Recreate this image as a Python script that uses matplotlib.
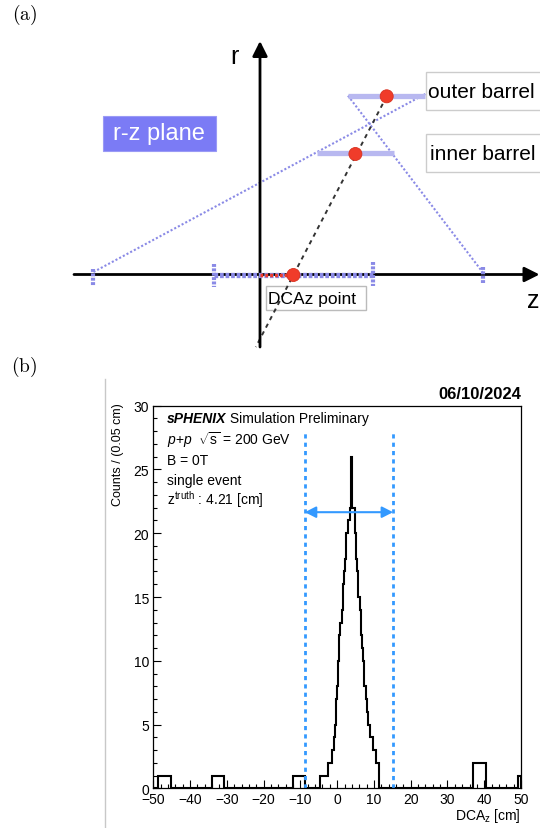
import matplotlib.pyplot as plt
import numpy as np
from matplotlib.patches import Rectangle, Circle

plt.rcParams['font.family'] = ['Liberation Sans', 'DejaVu Sans']
plt.rcParams['mathtext.fontset'] = 'custom'
plt.rcParams['mathtext.rm'] = 'Liberation Sans'
plt.rcParams['mathtext.it'] = 'Liberation Sans:italic'
plt.rcParams['mathtext.bf'] = 'Liberation Sans:bold'

# ---- (b) histogram of DCAz
edges = [-50, -48.6, -45.2, -34.1, -30.8, -12.1, -8.8,
         -4.8, -2.6, -1.5, -0.9, -0.6, -0.3, 0.0, 0.3, 0.6, 0.9, 1.2, 1.5, 1.8,
         2.1, 2.5, 3.0, 3.5, 3.9, 4.15, 4.9, 5.2, 5.5, 5.8, 6.1, 6.4, 6.8, 7.1,
         7.4, 7.8, 8.1, 8.4, 8.8, 9.8, 10.7, 11.3,
         37.0, 40.5, 49.3, 50]
counts = [0, 1, 0, 1, 0, 1, 0,
          1, 2, 3, 4, 5, 7, 8, 10, 12, 13, 14, 16, 17, 18, 20, 21, 22, 26, 22,
          20, 18, 17, 15, 14, 12, 11, 10, 8, 7, 6, 5, 4, 3, 2,
          0, 2, 0, 1]
z_truth = 4.21
window = [z_truth - 13.0, z_truth + 11.0]
arrow_y = 21.65
x_ticks = np.arange(-50, 51, 10)
y_ticks = np.arange(0, 31, 5)
info = [r"$p$+$p$  $\sqrt{\rm s}$ = 200 GeV", "B = 0T", "single event",
        r"z$^{\rm truth}$ : 4.21 [cm]"]
info_y = [27.0, 25.44, 23.87, 22.3]

# ---- (a) r-z sketch, pixel coordinates of the original drawing
r_axis = ([260, 260], [348, 42])
z_axis = ([74, 539.5], [275.5, 275.5])
hit_x = [386.7, 355.4, 293.4]
hit_y = [97.3, 155.0, 276.0]
barrel_x = [(348, 425), (317, 394)]
barrel_y = [96.7, 154.0]
cone_lines = [((93.5, 425.3), (273, 95)), ((348, 482.5), (96.7, 273))]
ztick_x = [93.3, 214, 373.3, 482.7]
ztick_y = [(270, 287), (265, 288), (263, 287), (268, 284)]
band_x = (214, 373.3)
dca_seg = (260, 293.4)
track_end = (255.8, 348)

blue = "#3399ff"
lav = "#8a8ae6"
red = "#f03c2a"

fig = plt.figure(figsize=(5.4, 8.29), dpi=100)
ov = fig.add_axes([0, 0, 1, 1])
ov.set_xlim(0, 540)
ov.set_ylim(829, 0)
ov.axis('off')

# panel labels
ov.text(12, 15, r"$\mathrm{(a)}$", fontsize=14, math_fontfamily='cm', va='center')
ov.text(11, 367, r"$\mathrm{(b)}$", fontsize=14, math_fontfamily='cm', va='center')
ov.plot([105, 105], [380, 829], color="#c8c8c8", lw=1)

# sketch
ov.plot(*cone_lines[0], color=lav, lw=1.5, ls=(0, (1, 1)))
ov.plot(*cone_lines[1], color=lav, lw=1.5, ls=(0, (1, 1)))
for (x0, x1), y in zip(barrel_x, barrel_y):
    ov.plot([x0, x1], [y, y], color="#b8b8f0", lw=3.8, solid_capstyle='butt')
for xs, ys in (r_axis, z_axis):
    ov.annotate("", xy=(xs[1], ys[1]), xytext=(xs[0], ys[0]), annotation_clip=False,
                arrowprops=dict(arrowstyle='-|>,head_length=0.6,head_width=0.3', lw=2,
                                color='black', shrinkA=0, shrinkB=0, mutation_scale=15))
ov.plot(band_x, [z_axis[1][0]] * 2, color=lav, lw=3.8, ls=(0, (0.7, 0.35)), zorder=4)
ov.plot(dca_seg, [z_axis[1][0]] * 2, color=red, lw=2.5, ls=(0, (0.8, 0.6)), zorder=4.5)
for x, (y0, y1) in zip(ztick_x, ztick_y):
    ov.plot([x, x], [y0, y1], color=lav, lw=3, ls=(0, (0.7, 0.35)), zorder=4)
ov.plot([hit_x[0], track_end[0]], [hit_y[0], track_end[1]], color="#333333",
        lw=1.4, ls=(0, (2.2, 2.2)))
for x, y in zip(hit_x, hit_y):
    ov.add_patch(Circle((x, y), 6.5, facecolor=red, edgecolor="#d8301e", lw=0.6, zorder=5))

ov.text(234, 57, "r", fontsize=18, ha='center', va='center')
ov.text(533, 301, "z", fontsize=18, ha='center', va='center')
ov.add_patch(Rectangle((102.6, 116.7), 113, 35, facecolor="#7b7bf5", edgecolor="#9a9af5", lw=0.8))
ov.text(159, 134, "r-z plane", fontsize=17, color='white', ha='center', va='center')
ov.add_patch(Rectangle((426, 72.7), 120, 38.3, facecolor='white', edgecolor="#cccccc", lw=1))
ov.text(428.5, 92, "outer barrel", fontsize=15, va='center')
ov.add_patch(Rectangle((426, 135), 120, 38.3, facecolor='white', edgecolor="#cccccc", lw=1))
ov.text(430, 154, "inner barrel", fontsize=15, va='center')
ov.add_patch(Rectangle((265.7, 286.7), 100, 24.3, facecolor='white', edgecolor="#bbbbbb", lw=1))
ov.text(268, 299.5, "DCAz point", fontsize=12.5, va='center')

# histogram panel
ax = fig.add_axes([153.3 / 540, 1 - 789.3 / 829, (521 - 153.3) / 540, (789.3 - 406.7) / 829])
ax.stairs(counts, edges, color='black', lw=1.5, baseline=0)
for xv in window:
    ax.plot([xv, xv], [0, 28], color=blue, lw=2, ls=(0, (1.5, 1.5)))
ax.annotate("", xy=(window[0], arrow_y), xytext=(window[1], arrow_y),
            arrowprops=dict(arrowstyle='<|-|>,head_length=0.55,head_width=0.28', color=blue,
                            lw=1.5, shrinkA=0, shrinkB=0, mutation_scale=12))
ax.set_xlim(-50, 50)
ax.set_ylim(0, 30)
ax.set_xticks(x_ticks)
ax.set_yticks(y_ticks)
ax.set_xticks(np.arange(-50, 51, 2), minor=True)
ax.set_yticks(np.arange(0, 31, 1), minor=True)
ax.tick_params(direction='in', which='both', top=False, right=False, labelsize=10, width=0.8)
ax.tick_params(which='major', length=6)
ax.tick_params(which='minor', length=3)
ax.tick_params(axis='x', pad=2.5)
ax.tick_params(axis='y', pad=3)
for s in ax.spines.values():
    s.set_linewidth(0.9)

ax.set_ylabel("Counts / (0.05 cm)", fontsize=9, loc='top')
ax.yaxis.set_label_coords(-0.08, 1.01)
ax.set_xlabel(r"DCA$_{\rm z}$ [cm]", fontsize=10, loc='right')
ax.xaxis.set_label_coords(1.0, -0.046)

t1 = ax.text(-46.3, 28.7, "sPHENIX", fontsize=10, fontweight='bold', style='italic', va='baseline')
ax.annotate(" Simulation Preliminary", xy=(1, 0), xycoords=t1, fontsize=10, va='bottom')
for s, yv in zip(info, info_y):
    ax.text(-46.3, yv, s, fontsize=10, va='baseline')
ax.text(50, 30.59, "06/10/2024", fontsize=12, fontweight='bold', ha='right', va='baseline')

fig.savefig("out.png", dpi=100)
